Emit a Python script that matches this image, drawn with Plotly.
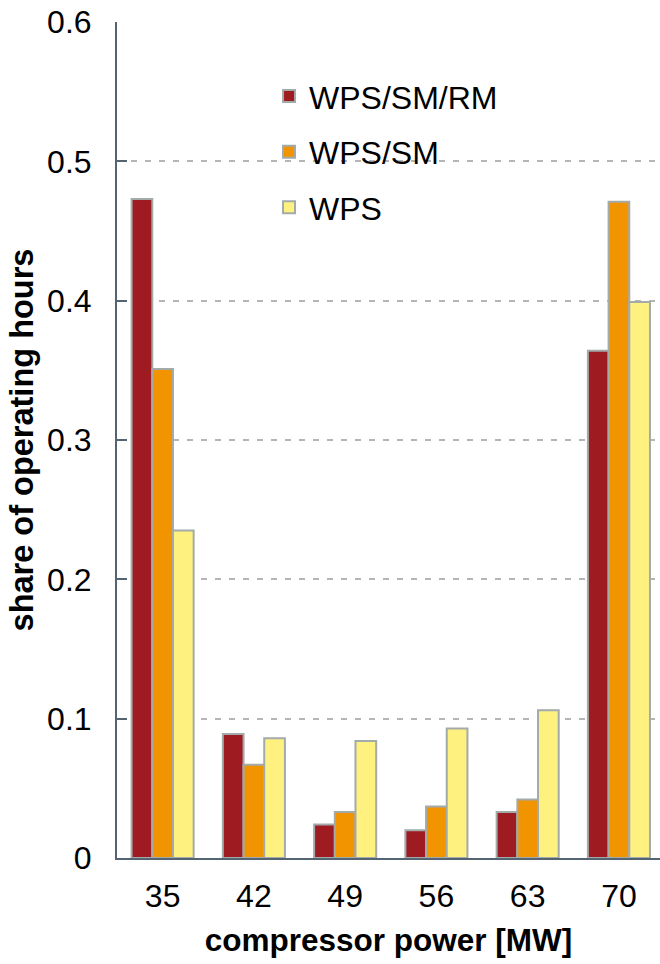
import plotly.graph_objects as go

categories = ["35", "42", "49", "56", "63", "70"]
series_names = ["WPS/SM/RM", "WPS/SM", "WPS"]
wps_sm_rm = [0.473, 0.089, 0.024, 0.020, 0.033, 0.364]
wps_sm = [0.351, 0.067, 0.033, 0.037, 0.042, 0.471]
wps = [0.235, 0.086, 0.084, 0.093, 0.106, 0.399]
colors = ["#9e1b22", "#f29400", "#fff17f"]

fig = go.Figure()
for name, vals, col in zip(series_names, [wps_sm_rm, wps_sm, wps], colors):
    fig.add_trace(go.Bar(
        x=categories, y=vals, name=name, legendgroup=name,
        marker=dict(color=col, line=dict(color="#a3aaaa", width=2)),
    ))

font = "Liberation Sans, Arial, sans-serif"
fig.update_layout(
    width=660, height=964,
    margin=dict(l=117, r=0, t=22, b=106, autoexpand=False),
    plot_bgcolor="white", paper_bgcolor="white",
    barmode="group", bargap=0.32, bargroupgap=0,
    font=dict(family=font, size=32, color="black"),
    legend=dict(x=0.28, y=0.944, xanchor="left", yanchor="top",
                font=dict(size=32), tracegroupgap=11,
                bgcolor="rgba(0,0,0,0)", traceorder="grouped"),
    xaxis=dict(
        range=[-0.5, 5.45], showline=True, linecolor="#546472", linewidth=2,
        ticks="", showgrid=False, ticklabelstandoff=9, automargin=False,
        tickfont=dict(size=32),
        title=dict(text="<b>compressor power [MW]</b>", font=dict(size=31.5), standoff=16),
    ),
    yaxis=dict(
        range=[0, 0.6], dtick=0.1, showline=True, linecolor="#546472", linewidth=2,
        ticks="inside", ticklen=10, tickcolor="#546472", tickwidth=2,
        showgrid=True, gridcolor="#b5b5b5", griddash="6px,8px", gridwidth=1.5,
        zeroline=False, ticklabelstandoff=17, tickfont=dict(size=32), automargin=False,
        ticklabeloverflow="allow",
        title=dict(text="<b>share of operating hours</b>", font=dict(size=32.5), standoff=4),
    ),
)

fig.write_html("out.html", config={"displayModeBar": False},
               post_script="document.body.style.margin='0';")
